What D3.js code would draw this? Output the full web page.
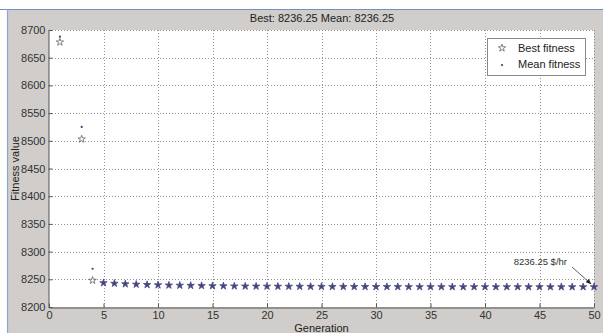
<!DOCTYPE html>
<html><head><meta charset="utf-8">
<script src="https://cdn.jsdelivr.net/npm/d3@7"></script>
<style>
html,body{margin:0;padding:0;background:#fff;}
text{font-family:"Liberation Sans",Arial,sans-serif;}
</style></head>
<body><svg id="c" width="603" height="333"></svg>
<script>
const generations = [1,3,4,5,6,7,8,9,10,11,12,13,14,15,16,17,18,19,20,21,22,23,24,25,26,27,28,29,30,31,32,33,34,35,36,37,38,39,40,41,42,43,44,45,46,47,48,49,50];
const bestFitness = [8678,8503,8248,8243.5,8242.5,8241.5,8240.8,8240.2,8239.7,8239.3,8239,8238.7,8238.4,8238.1,8237.9,8237.7,8237.5,8237.4,8237.3,8237.2,8237.1,8237,8236.9,8236.8,8236.7,8236.7,8236.6,8236.6,8236.5,8236.5,8236.5,8236.4,8236.4,8236.4,8236.4,8236.3,8236.3,8236.3,8236.3,8236.3,8236.3,8236.3,8236.25,8236.25,8236.25,8236.25,8236.25,8236.25,8236.25];
const meanFitness = [8688,8525,8269,8243.5,8242.5,8241.5,8240.8,8240.2,8239.7,8239.3,8239,8238.7,8238.4,8238.1,8237.9,8237.7,8237.5,8237.4,8237.3,8237.2,8237.1,8237,8236.9,8236.8,8236.7,8236.7,8236.6,8236.6,8236.5,8236.5,8236.5,8236.4,8236.4,8236.4,8236.4,8236.3,8236.3,8236.3,8236.3,8236.3,8236.3,8236.3,8236.25,8236.25,8236.25,8236.25,8236.25,8236.25,8236.25];
const xTicks = [0,5,10,15,20,25,30,35,40,45,50];
const yTicks = [8200,8250,8300,8350,8400,8450,8500,8550,8600,8650,8700];
const titleText = "Best: 8236.25 Mean: 8236.25";
const annotationText = "8236.25 $/hr";
const legendLabels = ["Best fitness","Mean fitness"];

const svg = d3.select("#c");
svg.append("rect").attr("x",7).attr("y",9).attr("width",596).attr("height",324).attr("fill","#d0cdca");
svg.append("line").attr("x1",0).attr("x2",603).attr("y1",9.5).attr("y2",9.5).attr("stroke","#6f8fc8").attr("stroke-width",1.2);
svg.append("line").attr("x1",7.5).attr("x2",7.5).attr("y1",9).attr("y2",333).attr("stroke","#8aa6d6").attr("stroke-width",1.2);

const L=49, R=594, T=30, B=307;
const x = d3.scaleLinear().domain([0,50]).range([L,R]);
const y = d3.scaleLinear().domain([8200,8700]).range([B,T]);

svg.append("rect").attr("x",L).attr("y",T).attr("width",R-L).attr("height",B-T).attr("fill","#fff");

const g = svg.append("g");
g.selectAll(".gx").data(xTicks.slice(1)).enter().append("line")
 .attr("x1",d=>Math.round(x(d))+0.5).attr("x2",d=>Math.round(x(d))+0.5).attr("y1",T).attr("y2",B)
 .attr("stroke","#777").attr("stroke-dasharray","1,2").attr("stroke-width",0.8);
g.selectAll(".gy").data(yTicks.slice(1)).enter().append("line")
 .attr("x1",L).attr("x2",R).attr("y1",d=>Math.round(y(d))+0.5).attr("y2",d=>Math.round(y(d))+0.5)
 .attr("stroke","#777").attr("stroke-dasharray","1,2").attr("stroke-width",0.8);

const fmt = d3.format("d");
const xAxis = d3.axisBottom(x).tickValues(xTicks).tickFormat(fmt).tickSizeInner(-4).tickSizeOuter(0).tickPadding(4);
const yAxis = d3.axisLeft(y).tickValues(yTicks).tickFormat(fmt).tickSizeInner(-4).tickSizeOuter(0).tickPadding(3);
const ax = svg.append("g").attr("transform",`translate(0,${B+0.5})`).call(xAxis);
const ay = svg.append("g").attr("transform",`translate(${L-0.5},0)`).call(yAxis);
[ax,ay].forEach(a=>{
  a.select(".domain").attr("stroke","#555");
  a.selectAll(".tick line").attr("stroke","#555");
  a.selectAll("text").attr("fill","#333").style("font-size","11px").style("font-family","Liberation Sans, Arial, sans-serif");
});

svg.append("text").attr("x",322).attr("y",22).attr("text-anchor","middle").attr("fill","#222").style("font-size","11px").text(titleText);
svg.append("text").attr("x",(L+R)/2).attr("y",332).attr("text-anchor","middle").attr("fill","#222").style("font-size","11px").text("Generation");
svg.append("text").attr("transform",`translate(19,${(T+B)/2}) rotate(-90)`).attr("text-anchor","middle").attr("fill","#222").style("font-size","11px").text("Fitness value");

const star = d3.symbol().type(d3.symbolStar).size(17);
const col = "#3e3e78";
const bestData = generations.map((g,i)=>({g, v:bestFitness[i]}));
const meanData = generations.map((g,i)=>({g, v:meanFitness[i]}));
svg.append("g").selectAll("path").data(bestData).enter().append("path")
 .attr("d",star).attr("transform",d=>`translate(${x(d.g)},${y(d.v)})`)
 .attr("fill",d=>d.g>=5?"#55558a":"none").attr("stroke",d=>d.g>=5?col:"#555").attr("stroke-width",0.7);
svg.append("g").selectAll("circle").data(meanData).enter().append("circle")
 .attr("cx",d=>x(d.g)).attr("cy",d=>y(d.v)).attr("r",1.1).attr("fill",col);

svg.append("defs").append("marker").attr("id","ah").attr("viewBox","0 0 10 10").attr("refX",9).attr("refY",5)
 .attr("markerWidth",7).attr("markerHeight",7).attr("orient","auto")
 .append("path").attr("d","M0,1 L10,5 L0,9 z").attr("fill","#222");
svg.append("text").attr("x",567).attr("y",265).attr("text-anchor","end").attr("fill","#333").style("font-size","9.5px").text(annotationText);
svg.append("line").attr("x1",572).attr("y1",267).attr("x2",x(50)-3).attr("y2",y(8236.25)-3)
 .attr("stroke","#333").attr("stroke-width",0.8).attr("marker-end","url(#ah)");

const lg = svg.append("g");
lg.append("rect").attr("x",487.5).attr("y",38.5).attr("width",98).attr("height",37).attr("fill","#fff").attr("stroke","#888");
lg.append("path").attr("d",star).attr("transform","translate(502,48)").attr("fill","none").attr("stroke","#555").attr("stroke-width",0.7);
lg.append("circle").attr("cx",502).attr("cy",65).attr("r",1.1).attr("fill",col);
legendLabels.forEach((t,i)=>{
  lg.append("text").attr("x",518).attr("y",52+i*16).attr("fill","#222").style("font-size","11px").text(t);
});
</script></body></html>
